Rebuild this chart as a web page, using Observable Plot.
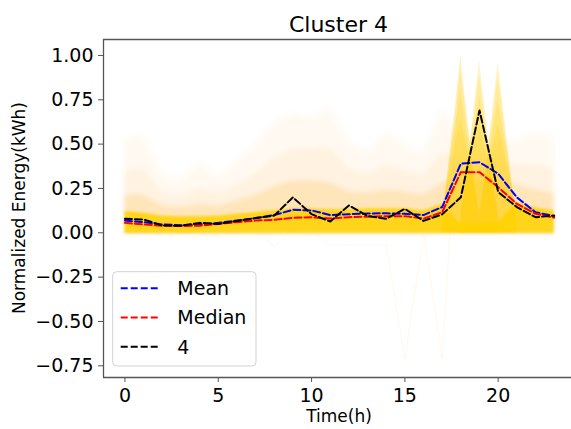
<!DOCTYPE html>
<html><head><meta charset="utf-8">
<script src="https://cdn.jsdelivr.net/npm/d3@7"></script>
<script src="https://cdn.jsdelivr.net/npm/@observablehq/plot@0.6"></script>
<style>
html,body{margin:0;padding:0;background:#fff;overflow:hidden;}
</style>
</head><body><div id="chart"></div>
<script>
const hours = [0,1,2,3,4,5,6,7,8,9,10,11,12,13,14,15,16,17,18,19,20,21,22,23];
const meanVals     = [0.069,0.060,0.047,0.043,0.047,0.056,0.069,0.083,0.100,0.130,0.126,0.100,0.105,0.109,0.110,0.107,0.100,0.145,0.390,0.398,0.333,0.200,0.116,0.094];
const medianVals   = [0.056,0.047,0.040,0.038,0.040,0.050,0.060,0.069,0.073,0.084,0.088,0.080,0.088,0.091,0.094,0.094,0.080,0.116,0.342,0.342,0.257,0.163,0.107,0.085];
const cluster4Vals = [0.079,0.075,0.041,0.040,0.056,0.050,0.066,0.083,0.097,0.200,0.105,0.064,0.154,0.095,0.079,0.135,0.067,0.104,0.200,0.690,0.230,0.145,0.088,0.097];

// background of individual day profiles (density layers)
const hazeTop = [0.52,0.55,0.32,0.30,0.39,0.32,0.40,0.50,0.62,0.67,0.65,0.70,0.51,0.46,0.56,0.50,0.45,0.70,0.55,0.52,0.52,0.52,0.56,0.55];
const hazeMid = [0.35,0.36,0.22,0.20,0.25,0.22,0.27,0.33,0.42,0.47,0.47,0.48,0.36,0.33,0.38,0.35,0.32,0.45,0.42,0.42,0.42,0.38,0.38,0.36];
const hazeLow = [0.21,0.21,0.15,0.14,0.16,0.15,0.18,0.21,0.26,0.29,0.29,0.28,0.23,0.22,0.24,0.23,0.21,0.28,0.30,0.30,0.30,0.27,0.24,0.22];
const coreTop = [0.12,0.11,0.095,0.09,0.09,0.095,0.105,0.115,0.125,0.135,0.135,0.13,0.13,0.135,0.135,0.135,0.125,0.16,0.05,0.05,0.06,0.17,0.14,0.125];
const coreBottom = -0.004;

// evening spikes
const spikeHours = [18,19,20];
const spikeTops  = [1.00,0.97,0.96];
const spikeDrops = [0,0.08,0.20,0.35];
const spikeBases = [0.05,0.08,0.10,0.13];

// a few stray (negative) profiles
const strayHoursA = [10,11,12,13,14,15,16];
const strayValsA  = [0.02,-0.07,-0.07,-0.07,-0.07,-0.71,0.0];
const strayHoursB = [15,16,17,18];
const strayValsB  = [0.05,0.0,-0.71,1.0];
const strayHoursC = [7,8,9];
const strayValsC  = [0.03,-0.08,0.02];

const yTicks = [-0.75,-0.5,-0.25,0,0.25,0.5,0.75,1.0];
const xTicks = [0,5,10,15,20];
const legendLabels = ["Mean","Median","4"];
const legendColors = ["#0000ff","#ff0000","#000000"];

const xDom = [-1.15, 23.93];
const yDom = [-0.816, 1.09];

const layer = arr => hours.map((h,i)=>({x:h, y1:coreBottom, y2:arr[i]}));
const spikeRows = [];
spikeHours.forEach((p,k)=>{
  spikeDrops.forEach((d,v)=>{
    const id = p+"-"+v;
    spikeRows.push({id, x:p-1, y1:0, y2:spikeBases[v]});
    spikeRows.push({id, x:p,   y1:0, y2:spikeTops[k]-d});
    spikeRows.push({id, x:p+1, y1:0, y2:spikeBases[v]});
  });
});
const stray = (hs,vs,id)=>hs.map((h,i)=>({id, x:h, y:vs[i]}));
const strayRows = [...stray(strayHoursA,strayValsA,"a"),...stray(strayHoursB,strayValsB,"b"),...stray(strayHoursC,strayValsC,"c")];
const series = (vals)=>hours.map((h,i)=>({x:h,y:vals[i]}));
const dash = "7,3";

const plot = Plot.plot({
  width: 571, height: 429,
  marginLeft: 103, marginRight: 0, marginTop: 39, marginBottom: 52,
  style: {fontFamily: "DejaVu Sans", fontSize: "19px", color: "black", background: "white"},
  x: {domain: xDom},
  y: {domain: yDom},
  marks: [
    Plot.areaY(layer(hazeTop), {x:"x", y1:"y1", y2:"y2", fill:"#ffb84d", fillOpacity:0.08}),
    Plot.areaY(layer(hazeMid), {x:"x", y1:"y1", y2:"y2", fill:"#ffb84d", fillOpacity:0.10}),
    Plot.areaY(layer(hazeLow), {x:"x", y1:"y1", y2:"y2", fill:"#ffb833", fillOpacity:0.22}),
    Plot.areaY(spikeRows, {x:"x", y1:"y1", y2:"y2", z:"id", fill:"#ffcc00", fillOpacity:0.22}),
    Plot.areaY(layer(coreTop), {x:"x", y1:"y1", y2:"y2", fill:"#ffd200", fillOpacity:0.85}),
    Plot.line(strayRows, {x:"x", y:"y", z:"id", stroke:"#ffb84d", strokeOpacity:0.10, strokeWidth:1}),
    Plot.line(series(meanVals), {x:"x", y:"y", stroke:legendColors[0], strokeWidth:2, strokeDasharray:dash}),
    Plot.line(series(medianVals), {x:"x", y:"y", stroke:legendColors[1], strokeWidth:2, strokeDasharray:dash}),
    Plot.line(series(cluster4Vals), {x:"x", y:"y", stroke:legendColors[2], strokeWidth:2, strokeDasharray:dash}),
    Plot.ruleX([xDom[0]], {y1:yDom[0], y2:yDom[1], stroke:"#555", strokeWidth:1.3}),
    Plot.ruleY([yDom[0], yDom[1]], {x1:xDom[0], x2:xDom[1], stroke:"#555", strokeWidth:1.3}),
    Plot.axisX({ticks:xTicks, tickSize:5, tickPadding:6, fontSize:19, label:null, stroke:"#555", fill:"black"}),
    Plot.axisY({ticks:yTicks, tickFormat:d3.format(".2f"), tickSize:5, tickPadding:5, fontSize:19, label:null, stroke:"#555", fill:"black"})
  ]
});
document.getElementById("chart").appendChild(plot);

const svg = d3.select(plot);
// soften the density layers like the overlapping faint profiles
const blurs = ["blur(3px)","blur(2.5px)","blur(2px)","blur(0.7px)","blur(1.2px)"];
svg.selectAll('g[aria-label="area"]').each(function(d,i){ d3.select(this).style("filter", blurs[i] || null); });

svg.append("text").attr("x",338.5).attr("y",31.7).attr("text-anchor","middle")
  .style("font-size","22px").style("font-family","DejaVu Sans").attr("fill","black").text("Cluster 4");
svg.append("text").attr("x",339).attr("y",422.4).attr("text-anchor","middle")
  .style("font-size","17px").style("font-family","DejaVu Sans").attr("fill","black").text("Time(h)");
svg.append("text").attr("transform","translate(24.5,208) rotate(-90)").attr("text-anchor","middle")
  .style("font-size","17px").style("font-family","DejaVu Sans").attr("fill","black").text("Normalized Energy(kWh)");

const lg = svg.append("g");
lg.append("rect").attr("x",112.7).attr("y",271.7).attr("width",143.3).attr("height",94.3).attr("rx",4)
  .attr("fill","white").attr("fill-opacity",0.8).attr("stroke","#d3d3d3").attr("stroke-width",1);
legendLabels.forEach((lab,i)=>{
  const y = 288.3 + i*29.2;
  lg.append("line").attr("x1",120.7).attr("x2",160).attr("y1",y).attr("y2",y)
    .attr("stroke",legendColors[i]).attr("stroke-width",2).attr("stroke-dasharray",dash);
  lg.append("text").attr("x",177.3).attr("y",y+6.8).attr("text-anchor","start")
    .style("font-size","19px").style("font-family","DejaVu Sans").attr("fill","black").text(lab);
});
</script>
</body></html>
